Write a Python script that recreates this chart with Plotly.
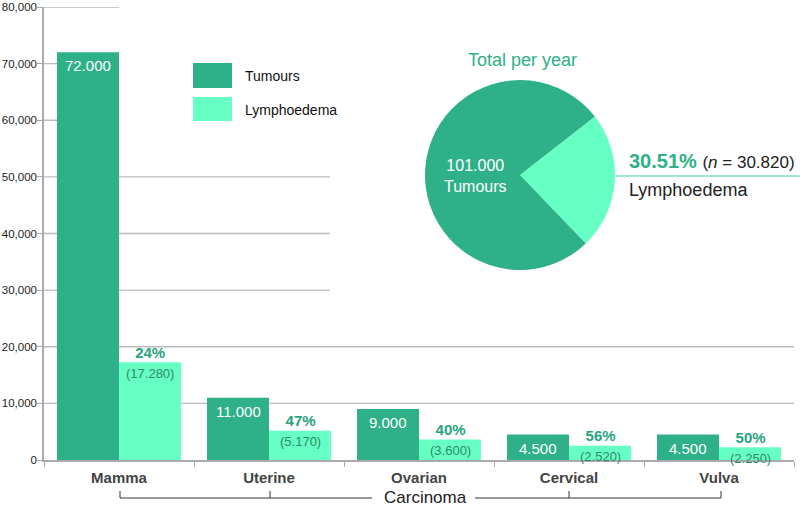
import plotly.graph_objects as go

categories = ["Mamma", "Uterine", "Ovarian", "Cervical", "Vulva"]
tumours = [72000, 11000, 9000, 4500, 4500]
lymphoedema = [17280, 5170, 3600, 2520, 2250]
y_ticks = [0, 10000, 20000, 30000, 40000, 50000, 60000, 70000, 80000]

C_TUM = "#2EB089"
C_LYM = "#66FFC4"
C_PCT = "#27A47E"
C_NUM = "#2B8A6C"
FONT = "Arial, 'Liberation Sans', sans-serif"

W, H = 800, 508
ML, MR, MT, MB = 44, 6, 7, 48
PW, PH = W - ML - MR, H - MT - MB

# right end (in pixels) of each horizontal gridline (layout styling: parts hidden behind legend/pie)
GRID_END_PX = {10000: 794, 20000: 794, 30000: 330, 40000: 330, 50000: 330,
               60000: 119, 70000: 119, 80000: 119}


def px(x):
    return (x - ML) / PW


def py(y):
    return (H - MB - y) / PH


def fmt(v):
    return f"{v:,}".replace(",", ".")


tot_t = sum(tumours)
tot_l = sum(lymphoedema)

fig = go.Figure()
fig.add_trace(go.Bar(x=categories, y=tumours, name="Tumours", marker=dict(color=C_TUM, line_width=0),
                     showlegend=False, hoverinfo="skip"))
fig.add_trace(go.Bar(x=categories, y=lymphoedema, name="Lymphoedema", marker=dict(color=C_LYM, line_width=0),
                     showlegend=False, hoverinfo="skip"))

fig.add_trace(go.Pie(labels=["Lymphoedema", "Tumours"], values=[tot_l, tot_t],
                     marker=dict(colors=[C_LYM, C_TUM], line=dict(width=0)),
                     sort=False, direction="clockwise", rotation=52, textinfo="none",
                     hoverinfo="skip", showlegend=False,
                     domain=dict(x=[px(425), px(615)], y=[py(270), py(80)])))

ann = []
for c, t, l in zip(categories, tumours, lymphoedema):
    ann.append(dict(x=c, y=t, xref="x", yref="y", xshift=-31, yshift=-3, yanchor="top",
                    text=fmt(t), showarrow=False, font=dict(color="white", size=15, family=FONT)))
    pct = round(l / t * 100)
    ann.append(dict(x=c, y=l, xref="x", yref="y", xshift=31, yshift=0, yanchor="middle",
                    text=f"<b>{pct}%</b><br><span style='font-size:13px;color:{C_NUM}'>({fmt(l)})</span>",
                    showarrow=False, font=dict(color=C_PCT, size=15, family=FONT)))

# legend
ann.append(dict(x=px(243), y=py(76), xref="paper", yref="paper", xanchor="left", yanchor="middle",
                text="Tumours", showarrow=False, font=dict(size=14, color="#111", family=FONT)))
ann.append(dict(x=px(243), y=py(110), xref="paper", yref="paper", xanchor="left", yanchor="middle",
                text="Lymphoedema", showarrow=False, font=dict(size=14, color="#111", family=FONT)))

# pie texts
ann.append(dict(x=px(522), y=py(60), xref="paper", yref="paper", xanchor="center", yanchor="middle",
                text="Total per year", showarrow=False, font=dict(size=18, color=C_TUM, family=FONT)))
ann.append(dict(x=px(476), y=py(176), xref="paper", yref="paper", xanchor="center", yanchor="middle",
                text=f"{fmt(tot_t)}<br>Tumours", showarrow=False, font=dict(size=16, color="white", family=FONT)))
ann.append(dict(x=px(627), y=py(161), xref="paper", yref="paper", xanchor="left", yanchor="middle",
                text=f"<b>{tot_l / tot_t * 100:.2f}%</b> <span style='font-size:17px;color:#222'>(<i>n</i> = {fmt(tot_l)})</span>",
                showarrow=False, font=dict(size=20, color=C_TUM, family=FONT)))
ann.append(dict(x=px(627), y=py(190), xref="paper", yref="paper", xanchor="left", yanchor="middle",
                text="Lymphoedema", showarrow=False, font=dict(size=18, color="#222", family=FONT)))

# Carcinoma bracket label
ann.append(dict(x=px(425), y=py(497), xref="paper", yref="paper", xanchor="center", yanchor="middle",
                text="Carcinoma", showarrow=False, font=dict(size=17, color="#222", family=FONT)))

shapes = []
# gridlines (drawn as shapes so that the parts behind the legend and pie are left out)
for v in y_ticks[1:]:
    shapes.append(dict(type="line", xref="paper", yref="y", x0=0, x1=px(GRID_END_PX[v]), y0=v, y1=v,
                       line=dict(color="#BBBBBB", width=1.3), layer="below"))

shapes += [
    # legend swatches
    dict(type="rect", xref="paper", yref="paper", x0=px(193), x1=px(232), y0=py(88), y1=py(63),
         fillcolor=C_TUM, line_width=0),
    dict(type="rect", xref="paper", yref="paper", x0=px(193), x1=px(232), y0=py(121), y1=py(97),
         fillcolor=C_LYM, line_width=0),
    # pie leader line
    dict(type="line", xref="paper", yref="paper", x0=px(616), x1=px(800), y0=py(176), y1=py(176),
         line=dict(color="#7FE3C9", width=1.5)),
    # bracket
    dict(type="line", xref="paper", yref="paper", x0=px(120), x1=px(372), y0=py(498), y1=py(498),
         line=dict(color="#333", width=1)),
    dict(type="line", xref="paper", yref="paper", x0=px(475), x1=px(721), y0=py(498), y1=py(498),
         line=dict(color="#333", width=1)),
]
for xx in [120, 270, 569, 721]:
    shapes.append(dict(type="line", xref="paper", yref="paper", x0=px(xx), x1=px(xx), y0=py(498), y1=py(491),
                       line=dict(color="#333", width=1)))

fig.update_layout(
    width=W, height=H,
    margin=dict(l=ML, r=MR, t=MT, b=MB, autoexpand=False),
    paper_bgcolor="white", plot_bgcolor="white",
    barmode="group", bargap=0.173, bargroupgap=0,
    font=dict(family=FONT, color="#222"),
    xaxis=dict(showgrid=False, showline=True, linecolor="#AAAAAA", linewidth=1.5,
               ticks="outside", tickson="boundaries", ticklen=5, tickcolor="#AAAAAA",
               tickfont=dict(size=15, color="#444", family=FONT), ticklabelstandoff=3,
               tickprefix="<b>", ticksuffix="</b>"),
    yaxis=dict(range=[0, 80000], tickvals=y_ticks, tickformat=",", showgrid=False,
               showline=True, linecolor="#AAAAAA", linewidth=1.5, ticks="outside",
               ticklen=5, tickcolor="#AAAAAA", tickfont=dict(size=11.5, color="#222"),
               ticklabelstandoff=-2, zeroline=False),
    annotations=ann, shapes=shapes,
)

fig.write_html("out.html", config={"displayModeBar": False},
               post_script="document.body.style.margin='0';document.body.style.padding='0';")
